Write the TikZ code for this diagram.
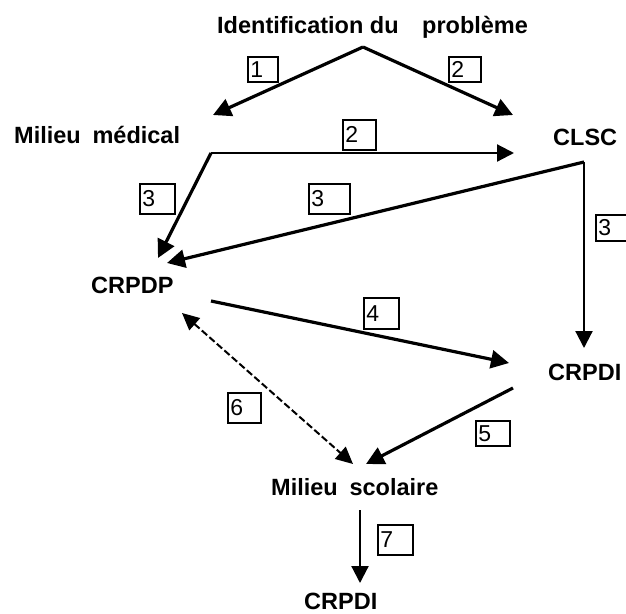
\documentclass[tikz,border=0pt]{standalone}
\usepackage{fontspec}
\setmainfont{Liberation Sans}
\usetikzlibrary{arrows.meta}
\begin{document}
\begin{tikzpicture}[x=1pt,y=-1pt,
  lbl/.style={font=\bfseries\fontsize{23.5}{28}\selectfont, inner sep=0pt, anchor=base west},
  numbox/.style={draw, line width=1.6pt, inner xsep=2.5pt, inner ysep=0pt, anchor=north west,
    align=left, font=\fontsize{23}{23}\selectfont},
  thick arr/.style={line width=3.2pt, -{Triangle[length=18pt,width=18pt]}},
  thin arr/.style={line width=2.2pt, -{Triangle[length=17pt,width=17pt]}},
  dash arr/.style={line width=2pt, dash pattern=on 7pt off 3pt,
    {Triangle[length=17pt,width=16pt]}-{Triangle[length=17pt,width=16pt]}}]
\useasboundingbox (0,0) rectangle (626,613);
% labels
\node[lbl] (ident) at (217,33) {Identification du\hspace{1.0em}problème};
\node[lbl] (med) at (14,143) {Milieu\hspace{0.5em}médical};
\node[lbl] (clsc) at (553,145) {CLSC};
\node[lbl] (crpdp) at (91,293) {CRPDP};
\node[lbl] (crpdi) at (548,380) {CRPDI};
\node[lbl] (scol) at (271,495) {Milieu\hspace{0.5em}scolaire};
\node[lbl] (crpdib) at (304,609) {CRPDI};
% connector end points
\coordinate (idS) at (363,47);
\coordinate (medT) at (213,115);
\coordinate (clscT) at (513,115);
\coordinate (medS) at (211,153);
\coordinate (clscT2) at (514,153);
\coordinate (crpdpT1) at (158,258);
\coordinate (clscS) at (584,162);
\coordinate (crpdpT2) at (167,263);
\coordinate (crpdiT) at (584,348);
\coordinate (crpdpS) at (211,301);
\coordinate (crpdiT2) at (509,363);
\coordinate (crpdiS) at (513,388);
\coordinate (scolT) at (366,464);
\coordinate (crpdpD) at (182,313);
\coordinate (scolD) at (353,464);
\coordinate (scolS) at (360,510);
\coordinate (crpdibT) at (360,583);
% connectors
\draw[thick arr] (idS) -- (medT);
\draw[thick arr] (idS) -- (clscT);
\draw[thin arr] (medS) -- (clscT2);
\draw[thick arr] (medS) -- (crpdpT1);
\draw[thick arr] (clscS) -- (crpdpT2);
\draw[thin arr] (clscS) -- (crpdiT);
\draw[thick arr] (crpdpS) -- (crpdiT2);
\draw[thick arr] (crpdiS) -- (scolT);
\draw[dash arr] (crpdpD) -- (scolD);
\draw[thin arr] (scolS) -- (crpdibT);
% number boxes
\node[numbox, text width=25pt, minimum height=25pt] (b1) at (247,56) {1};
\node[numbox, text width=27pt, minimum height=25pt] (b2a) at (448,56) {2};
\node[numbox, text width=28pt, minimum height=30pt] (b2b) at (342,119) {2};
\node[numbox, text width=30pt, minimum height=30pt] (b3a) at (139,183) {3};
\node[numbox, text width=36pt, minimum height=30pt] (b3b) at (308,183) {3};
\node[numbox, text width=30pt, minimum height=26pt] (b3c) at (595,214) {3};
\node[numbox, text width=30pt, minimum height=31pt] (b4) at (363,297) {4};
\node[numbox, text width=29pt, minimum height=25pt] (b5) at (475,420) {5};
\node[numbox, text width=28pt, minimum height=30pt] (b6) at (227,392) {6};
\node[numbox, text width=30pt, minimum height=30pt] (b7) at (377,524) {7};
\end{tikzpicture}
\end{document}
